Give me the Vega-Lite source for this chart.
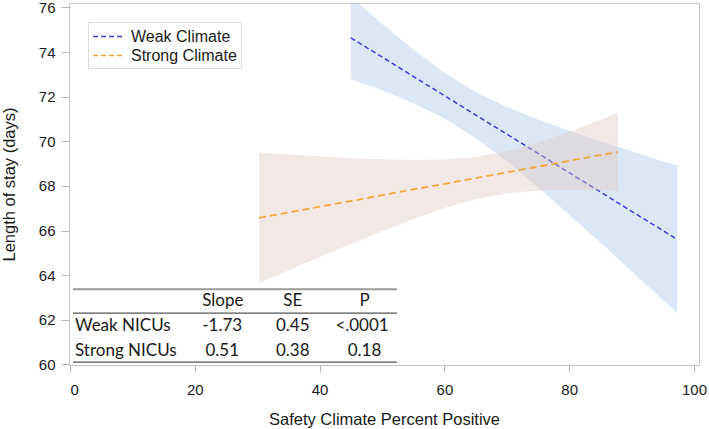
{
  "$schema": "https://vega.github.io/schema/vega-lite/v6.json",
  "width": 630,
  "height": 362,
  "autosize": "none",
  "padding": {"left": 69, "top": 3, "right": 10, "bottom": 64},
  "background": "white",
  "config": {
    "font": "Liberation Sans",
    "view": {"stroke": "#c4c4c4", "strokeWidth": 1},
    "axis": {
      "domain": false,
      "grid": false,
      "tickColor": "#b5b5b5",
      "tickSize": 7,
      "labelColor": "#1a1a1a",
      "labelFontSize": 15,
      "titleColor": "#1a1a1a",
      "titleFontSize": 16.5,
      "titleFontWeight": "normal"
    }
  },
  "datasets": {
    "bands": [
      {"series": "Weak Climate", "x": 45, "fit": 74.64, "lo": 72.79, "hi": 76.49},
      {"series": "Weak Climate", "x": 50, "fit": 73.78, "lo": 72.29, "hi": 75.27},
      {"series": "Weak Climate", "x": 55, "fit": 72.91, "lo": 71.71, "hi": 74.11},
      {"series": "Weak Climate", "x": 60, "fit": 72.05, "lo": 71.03, "hi": 73.07},
      {"series": "Weak Climate", "x": 65, "fit": 71.18, "lo": 70.15, "hi": 72.21},
      {"series": "Weak Climate", "x": 70, "fit": 70.32, "lo": 69.10, "hi": 71.54},
      {"series": "Weak Climate", "x": 75, "fit": 69.46, "lo": 67.94, "hi": 70.98},
      {"series": "Weak Climate", "x": 80, "fit": 68.59, "lo": 66.71, "hi": 70.47},
      {"series": "Weak Climate", "x": 85, "fit": 67.73, "lo": 65.46, "hi": 70.00},
      {"series": "Weak Climate", "x": 90, "fit": 66.86, "lo": 64.17, "hi": 69.55},
      {"series": "Weak Climate", "x": 95, "fit": 66.00, "lo": 62.89, "hi": 69.11},
      {"series": "Weak Climate", "x": 97.3, "fit": 65.60, "lo": 62.30, "hi": 68.90},
      {"series": "Strong Climate", "x": 30.3, "fit": 66.57, "lo": 63.64, "hi": 69.50},
      {"series": "Strong Climate", "x": 35, "fit": 66.81, "lo": 64.21, "hi": 69.41},
      {"series": "Strong Climate", "x": 40, "fit": 67.07, "lo": 64.81, "hi": 69.33},
      {"series": "Strong Climate", "x": 45, "fit": 67.32, "lo": 65.40, "hi": 69.24},
      {"series": "Strong Climate", "x": 50, "fit": 67.58, "lo": 65.97, "hi": 69.19},
      {"series": "Strong Climate", "x": 55, "fit": 67.84, "lo": 66.52, "hi": 69.16},
      {"series": "Strong Climate", "x": 60, "fit": 68.09, "lo": 67.01, "hi": 69.18},
      {"series": "Strong Climate", "x": 65, "fit": 68.35, "lo": 67.40, "hi": 69.30},
      {"series": "Strong Climate", "x": 70, "fit": 68.61, "lo": 67.67, "hi": 69.55},
      {"series": "Strong Climate", "x": 75, "fit": 68.86, "lo": 67.79, "hi": 69.93},
      {"series": "Strong Climate", "x": 80, "fit": 69.12, "lo": 67.82, "hi": 70.42},
      {"series": "Strong Climate", "x": 85, "fit": 69.38, "lo": 67.79, "hi": 70.97},
      {"series": "Strong Climate", "x": 87.8, "fit": 69.52, "lo": 67.76, "hi": 71.28}
    ],
    "rules": [
      {"kind": "top", "x1": 0.48, "x2": 52.4, "y": 63.37},
      {"kind": "thin", "x1": 0.48, "x2": 52.4, "y": 62.30},
      {"kind": "thin", "x1": 0.48, "x2": 52.4, "y": 60.10}
    ],
    "rowlabels": [
      {"text": "Weak NICUs", "x": 0.8, "y": 61.70},
      {"text": "Strong NICUs", "x": 0.8, "y": 60.61}
    ],
    "cells": [
      {"text": "Slope", "x": 24.5, "y": 62.85},
      {"text": "SE", "x": 35.7, "y": 62.85},
      {"text": "P", "x": 47.2, "y": 62.85},
      {"text": "-1.73", "x": 24.4, "y": 61.70},
      {"text": "0.45", "x": 35.7, "y": 61.70},
      {"text": "<.0001", "x": 46.8, "y": 61.70},
      {"text": "0.51", "x": 24.4, "y": 60.61},
      {"text": "0.38", "x": 35.7, "y": 60.61},
      {"text": "0.18", "x": 47.2, "y": 60.61}
    ]
  },
  "layer": [
    {
      "data": {"name": "bands"},
      "transform": [{"filter": "datum.series === 'Weak Climate'"}],
      "mark": {"type": "area", "color": "#a8c4e6", "opacity": 0.4, "clip": true},
      "encoding": {
        "x": {"field": "x", "type": "quantitative", "scale": {"domain": [-0.16, 100.8], "nice": false, "zero": false},
              "axis": {"values": [0, 20, 40, 60, 80, 100], "title": "Safety Climate Percent Positive", "labelPadding": 10, "titlePadding": 14}},
        "y": {"field": "lo", "type": "quantitative", "scale": {"domain": [59.97, 76.2], "nice": false, "zero": false},
              "axis": {"values": [60, 62, 64, 66, 68, 70, 72, 74, 76], "title": "Length of stay (days)", "tickSize": 8, "labelPadding": 6, "titlePadding": 21}},
        "y2": {"field": "hi"}
      }
    },
    {
      "data": {"name": "bands"},
      "transform": [{"filter": "datum.series === 'Weak Climate'"}],
      "mark": {"type": "line", "strokeWidth": 1.5, "strokeDash": [5, 3], "clip": true},
      "encoding": {
        "x": {"field": "x", "type": "quantitative"},
        "y": {"field": "fit", "type": "quantitative"},
        "stroke": {"field": "series", "type": "nominal",
                   "scale": {"domain": ["Weak Climate", "Strong Climate"], "range": ["#3b3bd6", "#f2a93b"]},
                   "legend": {"title": null, "orient": "top-left", "offset": 19, "fillColor": "white", "strokeColor": "#dddddd",
                              "padding": 4, "symbolType": "M-1,0H2.16", "symbolSize": 361, "symbolDash": [5, 3], "symbolStrokeWidth": 1.5,
                              "labelFontSize": 16, "labelColor": "#1a1a1a", "labelOffset": 18, "rowPadding": 0, "labelFont": "Liberation Sans"}}
      }
    },
    {
      "data": {"name": "bands"},
      "transform": [{"filter": "datum.series === 'Strong Climate'"}],
      "mark": {"type": "area", "color": "#dec8c0", "opacity": 0.4, "clip": true},
      "encoding": {
        "x": {"field": "x", "type": "quantitative"},
        "y": {"field": "lo", "type": "quantitative"},
        "y2": {"field": "hi"}
      }
    },
    {
      "data": {"name": "bands"},
      "transform": [{"filter": "datum.series === 'Strong Climate'"}],
      "mark": {"type": "line", "strokeWidth": 1.8, "strokeDash": [7, 4], "clip": true},
      "encoding": {
        "x": {"field": "x", "type": "quantitative"},
        "y": {"field": "fit", "type": "quantitative"},
        "stroke": {"field": "series", "type": "nominal"}
      }
    },
    {
      "data": {"name": "rules"},
      "transform": [{"filter": "datum.kind === 'top'"}],
      "mark": {"type": "rule", "color": "#9a9a9a", "strokeWidth": 2},
      "encoding": {
        "x": {"field": "x1", "type": "quantitative"},
        "x2": {"field": "x2"},
        "y": {"field": "y", "type": "quantitative"}
      }
    },
    {
      "data": {"name": "rules"},
      "transform": [{"filter": "datum.kind === 'thin'"}],
      "mark": {"type": "rule", "color": "#555555", "strokeWidth": 1.2},
      "encoding": {
        "x": {"field": "x1", "type": "quantitative"},
        "x2": {"field": "x2"},
        "y": {"field": "y", "type": "quantitative"}
      }
    },
    {
      "data": {"name": "rowlabels"},
      "mark": {"type": "text", "align": "left", "baseline": "middle", "font": "Lato", "fontSize": 17, "color": "#1a1a1a"},
      "encoding": {
        "x": {"field": "x", "type": "quantitative"},
        "y": {"field": "y", "type": "quantitative"},
        "text": {"field": "text", "type": "nominal"}
      }
    },
    {
      "data": {"name": "cells"},
      "mark": {"type": "text", "align": "center", "baseline": "middle", "font": "Lato", "fontSize": 17, "color": "#1a1a1a"},
      "encoding": {
        "x": {"field": "x", "type": "quantitative"},
        "y": {"field": "y", "type": "quantitative"},
        "text": {"field": "text", "type": "nominal"}
      }
    }
  ]
}
